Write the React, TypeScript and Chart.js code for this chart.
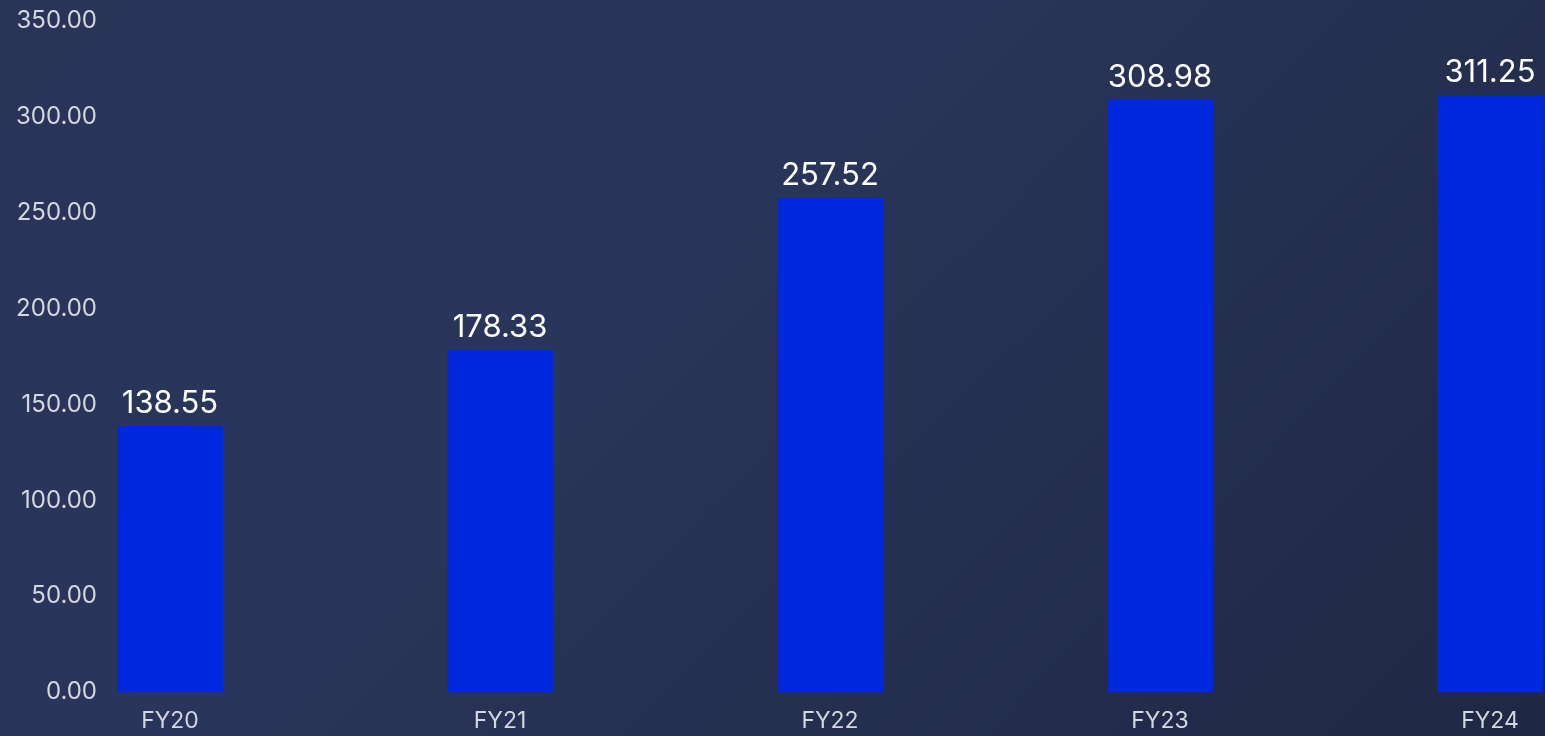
import React, { useEffect, useRef } from "react";
import { Chart, registerables } from "chart.js";

Chart.register(...registerables);

const categories = ["FY20", "FY21", "FY22", "FY23", "FY24"];
const values = [138.55, 178.33, 257.52, 308.98, 311.25];
const yMin = 0;
const yMax = 350;
const yStep = 50;

const valueLabelPlugin = {
  id: "valueLabels",
  afterDatasetsDraw(chart: any) {
    const ctx = chart.ctx;
    const meta = chart.getDatasetMeta(0);
    ctx.save();
    ctx.fillStyle = "#ffffff";
    ctx.font = "400 31px Inter, 'Open Sans', sans-serif";
    ctx.textAlign = "center";
    ctx.textBaseline = "alphabetic";
    meta.data.forEach((bar: any, i: number) => {
      const v = chart.data.datasets[0].data[i] as number;
      ctx.fillText(v.toFixed(2), bar.x, bar.y - 13);
    });
    ctx.restore();
  },
};

export default function App() {
  const ref = useRef<HTMLCanvasElement>(null);
  useEffect(() => {
    if (!ref.current) return;
    const chart = new Chart(ref.current, {
      type: "bar",
      data: {
        labels: categories,
        datasets: [
          {
            data: values,
            backgroundColor: "#0028de",
            borderWidth: 0,
            barThickness: 105,
            clip: false,
          } as any,
        ],
      },
      options: {
        animation: false,
        responsive: false,
        maintainAspectRatio: false,
        layout: { padding: { top: 21, right: 55, bottom: 0, left: 0 } },
        plugins: {
          legend: { display: false },
          tooltip: { enabled: false },
          title: { display: false },
        },
        scales: {
          x: {
            offset: false,
            grid: { display: false, drawTicks: true, tickLength: 13 },
            border: { display: false },
            ticks: {
              color: "#d3d7df",
              font: { family: "Inter, 'Open Sans', sans-serif", size: 23 },
              padding: 2,
              maxRotation: 0,
            },
            afterFit(scale: any) {
              scale.height = 44;
            },
          },
          y: {
            min: yMin,
            max: yMax,
            grid: { display: false, drawTicks: true, tickLength: 71 },
            border: { display: false },
            ticks: {
              stepSize: yStep,
              color: "#d3d7df",
              font: { family: "Inter, 'Open Sans', sans-serif", size: 24 },
              padding: 2,
              callback: (v: any) => Number(v).toFixed(2),
            },
            afterFit(scale: any) {
              scale.width = 170;
            },
          },
        },
      },
      plugins: [valueLabelPlugin],
    });
    return () => chart.destroy();
  }, []);

  return (
    <div
      style={{
        position: "fixed",
        left: 0,
        top: 0,
        width: 1545,
        height: 736,
        background:
          "linear-gradient(135deg, #283458 0%, #29355a 40%, #252f50 65%, #1f2843 100%)",
      }}
    >
      <canvas ref={ref} width={1545} height={736} style={{ display: "block", width: 1545, height: 736 }} />
    </div>
  );
}
